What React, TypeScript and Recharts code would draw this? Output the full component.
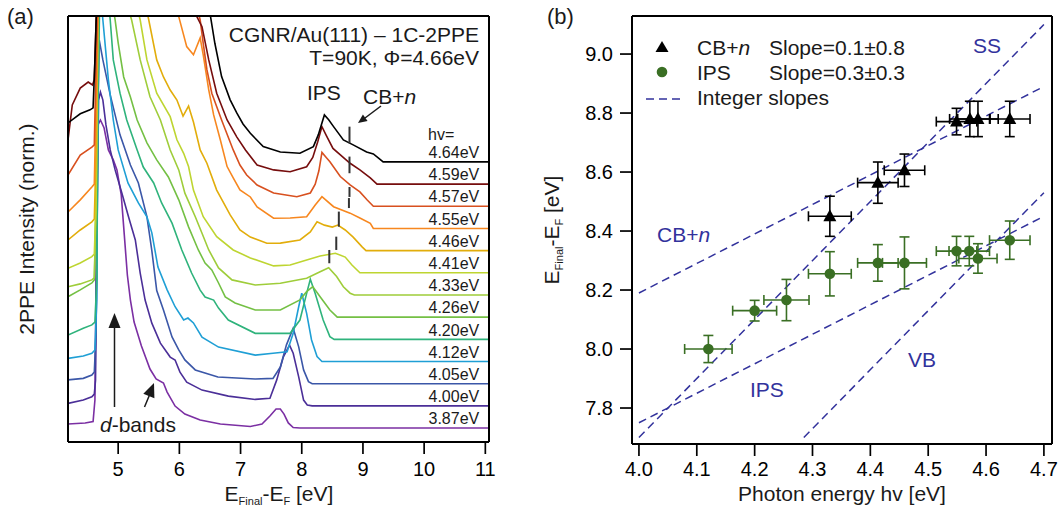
import React from 'react';
import { ComposedChart, Line, Scatter, XAxis, YAxis, ErrorBar } from 'recharts';

const FONT = "'Liberation Sans', Arial, Helvetica, sans-serif";
const TEXT = '#1a1a1a';
const NAVY = '#32329c';
const GREEN = '#3a6f24';

// ================= Panel (a): 2PPE spectra (waterfall) =================
const photonLabels = ['3.87eV', '4.00eV', '4.05eV', '4.12eV', '4.20eV', '4.26eV', '4.33eV', '4.41eV', '4.46eV', '4.55eV', '4.57eV', '4.59eV', '4.64eV'];
const spectrumColors = ['#7b2fa3', '#4b2f98', '#3b57a8', '#1f9fd5', '#2fb37c', '#74c044', '#9fcd3a', '#bed531', '#e2ad0b', '#f7871f', '#d8501f', '#760d0d', '#000000'];
const spectrumOffsets = [0, 1, 2, 3, 4, 5, 6, 7, 8, 9, 10, 11, 12];
const energyTicks = [5, 6, 7, 8, 9, 10, 11];
const intensityTicks = [2, 7, 12, 17];
const labelEnergy = 10.9;
const labelLift = 0.42;

// [E_Final - E_F (eV), intensity above own baseline]
const spec387 = [[4.18, 0.18], [4.46, 0.23], [4.59, 0.29], [4.62, 1.26], [4.65, 10.28], [4.67, 13.67], [4.71, 13.89], [4.77, 13.53], [4.84, 12.54], [4.92, 12.09], [4.98, 11.64], [5.05, 10.51], [5.10, 8.71], [5.15, 6.9], [5.20, 5.77], [5.26, 4.78], [5.38, 3.7], [5.52, 2.66], [5.62, 2.21], [5.74, 2.03], [5.80, 1.62], [5.93, 0.99], [6.09, 0.63], [6.34, 0.36], [6.67, 0.18], [7.16, 0.07], [7.35, 0.18], [7.48, 0.54], [7.58, 0.86], [7.65, 0.86], [7.71, 0.63], [7.78, 0.23], [7.86, 0.02], [7.97, 0], [11.06, 0]];
const spec400 = [[4.18, 0.11], [4.43, 0.26], [4.57, 0.41], [4.61, 0.53], [4.63, 1.16], [4.66, 9.28], [4.68, 13.79], [4.71, 14.15], [4.75, 13.79], [4.80, 12.67], [4.87, 11.54], [4.95, 10.64], [5.06, 9.6], [5.17, 8.52], [5.28, 7.48], [5.36, 5.99], [5.44, 4.77], [5.55, 3.73], [5.69, 2.83], [5.85, 2.2], [5.93, 2.07], [6.01, 1.52], [6.12, 1.07], [6.37, 0.71], [6.80, 0.44], [7.24, 0.29], [7.48, 0.34], [7.59, 1.16], [7.70, 2.21], [7.80, 2.74], [7.86, 2.37], [7.95, 1.31], [8.03, 0.26], [8.09, 0.04], [8.17, 0], [11.06, 0]];
const spec405 = [[4.18, 0.17], [4.43, 0.24], [4.57, 0.39], [4.61, 0.53], [4.64, 2.42], [4.66, 10.54], [4.69, 15.5], [4.75, 14.6], [4.87, 13.02], [5.03, 11.22], [5.20, 9.86], [5.33, 9.05], [5.47, 7.52], [5.55, 6.0], [5.63, 4.2], [5.74, 3.32], [5.88, 2.11], [5.99, 1.52], [6.09, 1.07], [6.26, 0.62], [6.63, 0.3], [7.24, 0.21], [7.53, 0.24], [7.65, 0.75], [7.75, 1.75], [7.86, 2.5], [7.95, 1.66], [8.03, 0.62], [8.11, 0.09], [8.17, 0], [11.06, 0]];
const spec412 = [[4.18, 0.14], [4.43, 0.25], [4.57, 0.37], [4.62, 0.52], [4.65, 2.77], [4.67, 11.8], [4.69, 17.2], [4.75, 15.4], [4.84, 12.7], [4.92, 10.89], [5.0, 9.54], [5.16, 8.05], [5.33, 7.15], [5.47, 6.52], [5.55, 5.8], [5.65, 4.26], [5.80, 3.23], [5.93, 2.47], [6.07, 1.87], [6.14, 1.96], [6.23, 1.74], [6.37, 1.1], [6.64, 0.65], [7.24, 0.29], [7.53, 0.37], [7.76, 0.44], [7.86, 1.27], [7.95, 2.47], [8.0, 3.08], [8.08, 2.17], [8.16, 0.97], [8.25, 0.22], [8.33, 0], [11.06, 0]];
const spec420 = [[4.18, 0.19], [4.43, 0.5], [4.57, 0.65], [4.62, 0.78], [4.65, 2.67], [4.67, 10.8], [4.71, 17.1], [4.79, 16.66], [4.87, 14.4], [4.92, 12.6], [5.03, 11.1], [5.14, 9.89], [5.31, 8.54], [5.41, 7.77], [5.58, 7.05], [5.71, 6.15], [5.88, 5.24], [6.04, 4.03], [6.20, 2.99], [6.34, 2.22], [6.42, 1.91], [6.56, 1.77], [6.64, 1.41], [6.80, 0.87], [7.24, 0.27], [7.81, 0.27], [7.97, 0.87], [8.08, 2.07], [8.14, 2.71], [8.22, 2.07], [8.35, 0.87], [8.46, 0.12], [8.53, 0], [11.06, 0]];
const spec426 = [[4.18, 0.92], [4.38, 1.23], [4.57, 1.54], [4.61, 1.68], [4.64, 5.28], [4.67, 14.3], [4.71, 16.1], [4.87, 14.76], [4.95, 13.4], [5.0, 12.37], [5.09, 10.83], [5.20, 9.93], [5.31, 8.89], [5.47, 7.86], [5.63, 7.09], [5.82, 6.32], [5.99, 5.29], [6.15, 4.07], [6.31, 3.03], [6.42, 2.44], [6.53, 2.13], [6.64, 1.54], [6.75, 0.91], [6.91, 0.64], [7.24, 0.32], [7.65, 0.32], [7.97, 0.78], [8.08, 1.15], [8.18, 1.38], [8.30, 0.92], [8.46, 0.32], [8.58, 0], [11.06, 0]];
const spec433 = [[4.18, 0.37], [4.38, 0.5], [4.57, 0.68], [4.61, 0.77], [4.64, 4.29], [4.67, 13.3], [4.71, 15.1], [5.03, 14.2], [5.22, 12.4], [5.36, 10.6], [5.52, 8.94], [5.69, 7.89], [5.85, 6.54], [5.99, 5.64], [6.09, 4.59], [6.26, 3.53], [6.37, 2.78], [6.48, 2.03], [6.64, 1.22], [6.86, 0.68], [7.24, 0.45], [7.65, 0.53], [8.08, 0.75], [8.30, 1.05], [8.44, 1.23], [8.57, 0.83], [8.68, 0.37], [8.79, 0.08], [8.86, 0], [11.06, 0]];
const spec441 = [[4.18, 0.2], [4.38, 0.44], [4.57, 0.73], [4.61, 0.85], [4.64, 3.28], [4.67, 12.3], [4.71, 14.1], [5.2, 13.2], [5.36, 11.4], [5.47, 9.6], [5.63, 8.1], [5.85, 7.04], [5.96, 6.0], [6.07, 5.39], [6.15, 4.79], [6.23, 3.73], [6.39, 2.53], [6.61, 1.63], [6.88, 1.03], [7.16, 0.67], [7.54, 0.31], [7.81, 0.35], [8.08, 0.58], [8.30, 0.76], [8.55, 0.88], [8.71, 0.71], [8.82, 0.35], [8.95, 0], [11.06, 0]];
const spec446 = [[4.18, 0.48], [4.38, 0.93], [4.57, 1.3], [4.61, 1.43], [4.64, 4.54], [4.67, 11.3], [4.71, 13.1], [5.36, 12.2], [5.50, 10.4], [5.63, 8.6], [5.74, 7.83], [5.85, 7.24], [5.96, 6.79], [6.06, 6.07], [6.15, 6.52], [6.23, 5.8], [6.34, 4.54], [6.45, 3.94], [6.61, 2.73], [6.83, 1.61], [6.99, 0.93], [7.16, 0.61], [7.43, 0.33], [7.65, 0.34], [7.97, 0.48], [8.14, 0.84], [8.25, 1.3], [8.37, 1.15], [8.50, 1.06], [8.59, 1.15], [8.71, 0.93], [8.84, 0.61], [8.99, 0.16], [9.05, 0], [11.06, 0]];
const spec455 = [[4.18, 0.74], [4.38, 1.29], [4.57, 1.87], [4.61, 2.0], [4.64, 5.8], [4.67, 10.3], [4.71, 12.1], [5.85, 11.2], [5.99, 9.55], [6.12, 8.2], [6.23, 7.83], [6.34, 8.59], [6.39, 7.83], [6.48, 6.25], [6.56, 5.12], [6.67, 3.99], [6.78, 2.79], [6.88, 2.28], [6.99, 1.74], [7.16, 1.42], [7.27, 0.97], [7.54, 0.46], [7.81, 0.47], [8.08, 0.53], [8.22, 1.06], [8.33, 1.43], [8.52, 0.98], [8.79, 0.69], [8.95, 0.47], [9.12, 0.23], [9.17, 0], [11.06, 0]];
const spec457 = [[4.18, 1.41], [4.38, 2.31], [4.57, 2.67], [4.61, 2.77], [4.64, 6.6], [4.67, 9.3], [4.71, 11.1], [6.18, 10.2], [6.34, 8.4], [6.39, 7.35], [6.45, 6.16], [6.53, 5.1], [6.69, 3.89], [6.88, 2.54], [6.99, 1.86], [7.10, 1.41], [7.27, 0.96], [7.54, 0.6], [7.92, 0.43], [8.14, 0.6], [8.22, 1.0], [8.28, 1.6], [8.33, 2.43], [8.40, 2.2], [8.46, 2.01], [8.63, 1.34], [8.79, 0.96], [8.95, 0.65], [9.07, 0.28], [9.17, 0], [11.06, 0]];
const spec459 = [[4.18, 1.99], [4.25, 3.57], [4.38, 4.33], [4.51, 4.6], [4.58, 4.47], [4.61, 4.7], [4.64, 7.4], [4.67, 9.2], [4.71, 10.1], [6.09, 9.2], [6.23, 7.85], [6.37, 7.1], [6.48, 5.6], [6.61, 4.1], [6.78, 2.89], [6.94, 2.12], [7.08, 1.54], [7.27, 0.86], [7.54, 0.64], [7.81, 0.56], [8.08, 0.78], [8.18, 1.2], [8.26, 1.9], [8.33, 2.59], [8.40, 2.2], [8.51, 1.61], [8.79, 0.94], [8.95, 0.64], [9.12, 0.28], [9.23, 0], [11.06, 0]];
const spec464 = [[4.18, 1.76], [4.38, 2.17], [4.54, 2.35], [4.59, 2.44], [4.62, 4.6], [4.65, 7.3], [4.71, 9.1], [6.34, 8.66], [6.45, 7.3], [6.50, 6.71], [6.58, 5.35], [6.69, 3.85], [6.83, 2.8], [6.94, 2.2], [7.04, 1.71], [7.16, 1.29], [7.37, 0.69], [7.65, 0.45], [7.97, 0.39], [8.19, 0.69], [8.27, 1.22], [8.37, 2.12], [8.44, 1.9], [8.52, 1.59], [8.68, 0.99], [8.84, 0.77], [9.06, 0.45], [9.17, 0.36], [9.25, 0.18], [9.33, 0], [11.06, 0]];
const spectra = [spec387, spec400, spec405, spec412, spec420, spec426, spec433, spec441, spec446, spec455, spec457, spec459, spec464];

// CB+n markers in (a): spectrum index, lower/upper end above own baseline
const cbDashSpectrum = [6, 7, 8, 9, 10, 11, 12];
const cbDashLo = [1.43, 1.03, 1.08, 0.92, 0.42, 0.49, 0.84];
const cbDashHi = [2.03, 1.63, 1.76, 1.37, 0.87, 1.24, 1.59];

// ================= Panel (b): peak positions vs photon energy =================
const cbHv = [4.33, 4.413, 4.459, 4.549, 4.572, 4.586, 4.641];
const cbE = [8.45, 8.564, 8.606, 8.771, 8.78, 8.78, 8.78];
const cbXerr = [0.037, 0.035, 0.035, 0.035, 0.035, 0.035, 0.035];
const cbYerr = [0.068, 0.07, 0.055, 0.045, 0.06, 0.06, 0.06];

const ipsHv = [4.12, 4.2, 4.255, 4.33, 4.413, 4.459, 4.549, 4.571, 4.586, 4.641];
const ipsE = [8.0, 8.13, 8.166, 8.255, 8.292, 8.292, 8.332, 8.332, 8.307, 8.369];
const ipsXerr = [0.041, 0.038, 0.039, 0.037, 0.035, 0.038, 0.035, 0.035, 0.033, 0.035];
const ipsYerr = [0.046, 0.035, 0.07, 0.075, 0.062, 0.088, 0.05, 0.05, 0.05, 0.065];

// integer-slope guide lines: name, slope, start point, end photon energy
const guideNames = ['CB+n', 'SS', 'IPS', 'VB'];
const guideSlope = [1, 2, 1, 2];
const guideX0 = [4.0, 4.0, 4.0, 4.285];
const guideY0 = [8.19, 7.7, 7.75, 7.7];
const guideXEnd = 4.7;

const hvTicks = [4.0, 4.1, 4.2, 4.3, 4.4, 4.5, 4.6, 4.7];
const eFinalTicks = [7.8, 8.0, 8.2, 8.4, 8.6, 8.8, 9.0];

// ---------- derived tables ----------
const spectrumSeries = spectra.map((s, i) => s.map(([x, r]) => ({ x, y: r + spectrumOffsets[i] })));
const labelPoints = photonLabels.map((t, i) => ({ x: labelEnergy, y: spectrumOffsets[i] + labelLift, t }));
const cbDashSeries = cbDashSpectrum.map((si, k) => [
  { x: cbE[k], y: spectrumOffsets[si] + cbDashLo[k] },
  { x: cbE[k], y: spectrumOffsets[si] + cbDashHi[k] },
]);
const cbPoints = cbHv.map((x, i) => ({ x, y: cbE[i], xe: cbXerr[i], ye: cbYerr[i] }));
const ipsPoints = ipsHv.map((x, i) => ({ x, y: ipsE[i], xe: ipsXerr[i], ye: ipsYerr[i] }));
const guideSeries = guideNames.map((_, k) => [
  { x: guideX0[k], y: guideY0[k] },
  { x: guideXEnd, y: guideY0[k] + guideSlope[k] * (guideXEnd - guideX0[k]) },
]);

const axisLine = { stroke: '#000', strokeWidth: 2 };
const tickLine = { stroke: '#000', strokeWidth: 1.7 };
const tickFont = { fontSize: 20, fill: '#000' };

const Triangle = (p: any) => (
  <polygon points={`${p.cx},${p.cy - 7} ${p.cx - 6.5},${p.cy + 5} ${p.cx + 6.5},${p.cy + 5}`} fill="#000" />
);
const Dot = (p: any) => <circle cx={p.cx} cy={p.cy} r={5.3} fill={GREEN} />;
const EnergyLabel = (p: any) => (
  <text x={p.cx} y={p.cy} textAnchor="end" dominantBaseline="central" fontSize={16} fill={TEXT}>
    {p.payload.t}
  </text>
);

function PanelA() {
  return (
    <ComposedChart width={520} height={514} margin={{ top: 0, right: 0, bottom: 0, left: 0 }}>
      <XAxis xAxisId="b" dataKey="x" type="number" domain={[4.18, 11.06]} ticks={energyTicks} allowDataOverflow
        height={72} tickSize={12} tickMargin={8} axisLine={axisLine} tickLine={tickLine} tick={tickFont} />
      <XAxis xAxisId="t" orientation="top" dataKey="x" type="number" domain={[4.18, 11.06]} ticks={energyTicks} allowDataOverflow
        height={16} tickSize={12} axisLine={axisLine} tickLine={tickLine} tick={false} />
      <YAxis yAxisId="l" dataKey="y" type="number" domain={[-0.63, 18.58]} ticks={intensityTicks} allowDataOverflow
        width={68} tickSize={12} axisLine={axisLine} tickLine={tickLine} tick={false} />
      <YAxis yAxisId="r" orientation="right" type="number" domain={[-0.63, 18.58]} ticks={intensityTicks} allowDataOverflow
        width={31} tickSize={12} axisLine={axisLine} tickLine={tickLine} tick={false} />
      {spectrumSeries.map((d, i) => (
        <Line key={'s' + i} xAxisId="b" yAxisId="l" data={d} dataKey="y" type="linear" stroke={spectrumColors[i]}
          strokeWidth={1.6} dot={false} activeDot={false} isAnimationActive={false} />
      ))}
      {cbDashSeries.map((d, k) => (
        <Line key={'c' + k} xAxisId="b" yAxisId="l" data={d} dataKey="y" type="linear" stroke="#333"
          strokeWidth={2} dot={false} activeDot={false} isAnimationActive={false} />
      ))}
      <Scatter xAxisId="b" yAxisId="l" data={labelPoints} dataKey="y" shape={EnergyLabel} isAnimationActive={false} />
    </ComposedChart>
  );
}

function PanelB() {
  return (
    <ComposedChart width={523} height={514} margin={{ top: 0, right: 0, bottom: 0, left: 0 }}>
      <XAxis xAxisId="b" dataKey="x" type="number" domain={[3.988, 4.714]} ticks={hvTicks} allowDataOverflow
        height={70} tickSize={12} tickMargin={6} axisLine={axisLine} tickLine={tickLine} tick={tickFont}
        tickFormatter={(v: number) => v.toFixed(1)} />
      <XAxis xAxisId="t" orientation="top" dataKey="x" type="number" domain={[3.988, 4.714]} ticks={hvTicks} allowDataOverflow
        height={16} tickSize={12} axisLine={axisLine} tickLine={tickLine} tick={false} />
      <YAxis yAxisId="l" dataKey="y" type="number" domain={[7.678, 9.129]} ticks={eFinalTicks} allowDataOverflow
        width={92} tickSize={12} tickMargin={7} axisLine={axisLine} tickLine={tickLine} tick={tickFont}
        tickFormatter={(v: number) => v.toFixed(1)} />
      <YAxis yAxisId="r" orientation="right" type="number" domain={[7.678, 9.129]} ticks={eFinalTicks} allowDataOverflow
        width={11} tickSize={10} axisLine={axisLine} tickLine={tickLine} tick={false} />
      {guideSeries.map((d, k) => (
        <Line key={'g' + k} xAxisId="b" yAxisId="l" data={d} dataKey="y" type="linear" stroke={NAVY}
          strokeWidth={1.5} strokeDasharray="8 5" dot={false} activeDot={false} isAnimationActive={false} />
      ))}
      <Scatter xAxisId="b" yAxisId="l" data={ipsPoints} dataKey="y" shape={Dot} isAnimationActive={false}>
        <ErrorBar dataKey="xe" direction="x" width={5} stroke={GREEN} strokeWidth={1.6} />
        <ErrorBar dataKey="ye" direction="y" width={5} stroke={GREEN} strokeWidth={1.6} />
      </Scatter>
      <Scatter xAxisId="b" yAxisId="l" data={cbPoints} dataKey="y" shape={Triangle} isAnimationActive={false}>
        <ErrorBar dataKey="xe" direction="x" width={5} stroke="#000" strokeWidth={1.6} />
        <ErrorBar dataKey="ye" direction="y" width={5} stroke="#000" strokeWidth={1.6} />
      </Scatter>
    </ComposedChart>
  );
}

function Overlay() {
  return (
    <svg width={1063} height={514} style={{ position: 'absolute', left: 0, top: 0, pointerEvents: 'none' }}
      fontFamily={FONT} fill={TEXT}>
      {/* panel letters */}
      <text x={7} y={23.5} fontSize={22}>(a)</text>
      <text x={547} y={23.5} fontSize={22}>(b)</text>

      {/* panel (a) annotations */}
      <text x={479} y={42} fontSize={21} textAnchor="end">CGNR/Au(111) – 1C-2PPE</text>
      <text x={479} y={65} fontSize={21} textAnchor="end">T=90K, Φ=4.66eV</text>
      <text x={307} y={100} fontSize={21}>IPS</text>
      <text x={363} y={104} fontSize={21}>CB+<tspan fontStyle="italic">n</tspan></text>
      <line x1={381} y1={106} x2={365} y2={118} stroke={TEXT} strokeWidth={1.5} />
      <polygon points="358,123 367.6,120.9 362.9,114.4" fill={TEXT} />
      <text x={428} y={140} fontSize={16}>hv=</text>
      <text x={100} y={432} fontSize={21}><tspan fontStyle="italic">d</tspan>-bands</text>
      <line x1={114.5} y1={407} x2={114.5} y2={326} stroke={TEXT} strokeWidth={1.5} />
      <polygon points="114.5,313 108.5,328 120.5,328" fill={TEXT} />
      <line x1={144.5} y1={407} x2={149.5} y2={395} stroke={TEXT} strokeWidth={1.5} />
      <polygon points="154,383 154.4,398.2 143.3,393.8" fill={TEXT} />
      <text transform="translate(34,229) rotate(-90)" textAnchor="middle" fontSize={21}>2PPE Intensity (norm.)</text>
      <text x={279} y={501} textAnchor="middle" fontSize={21}>
        E<tspan fontSize={11} dy={4}>Final</tspan><tspan dy={-4}>-E</tspan><tspan fontSize={11} dy={4}>F</tspan><tspan dy={-4}> [eV]</tspan>
      </text>

      {/* panel (b) annotations */}
      <text transform="translate(559,230) rotate(-90)" textAnchor="middle" fontSize={21}>
        E<tspan fontSize={11} dy={4}>Final</tspan><tspan dy={-4}>-E</tspan><tspan fontSize={11} dy={4}>F</tspan><tspan dy={-4}> [eV]</tspan>
      </text>
      <text x={842} y={501} textAnchor="middle" fontSize={21}>Photon energy hv [eV]</text>

      <polygon points="662,41 655.5,52 668.5,52" fill="#000" />
      <text x={697} y={55} fontSize={21}>CB+<tspan fontStyle="italic">n</tspan></text>
      <text x={769} y={55} fontSize={21}>Slope=0.1±0.8</text>
      <circle cx={662} cy={72} r={5.3} fill={GREEN} />
      <text x={697} y={80} fontSize={21}>IPS</text>
      <text x={769} y={80} fontSize={21}>Slope=0.3±0.3</text>
      <line x1={646} y1={99} x2={680} y2={99} stroke={NAVY} strokeWidth={1.5} strokeDasharray="8 5" />
      <text x={697} y={105} fontSize={21}>Integer slopes</text>

      <text x={973} y={53} fontSize={21} fill={NAVY}>SS</text>
      <text x={657} y={242} fontSize={21} fill={NAVY}>CB+<tspan fontStyle="italic">n</tspan></text>
      <text x={750} y={397} fontSize={21} fill={NAVY}>IPS</text>
      <text x={908} y={367} fontSize={21} fill={NAVY}>VB</text>
    </svg>
  );
}

export default function App() {
  return (
    <div style={{ position: 'absolute', left: 0, top: 0, width: 1063, height: 514, background: '#fff', fontFamily: FONT, overflow: 'hidden' }}>
      <div style={{ position: 'absolute', left: 0, top: 0 }}>
        <PanelA />
      </div>
      <div style={{ position: 'absolute', left: 540, top: 0 }}>
        <PanelB />
      </div>
      <Overlay />
    </div>
  );
}
